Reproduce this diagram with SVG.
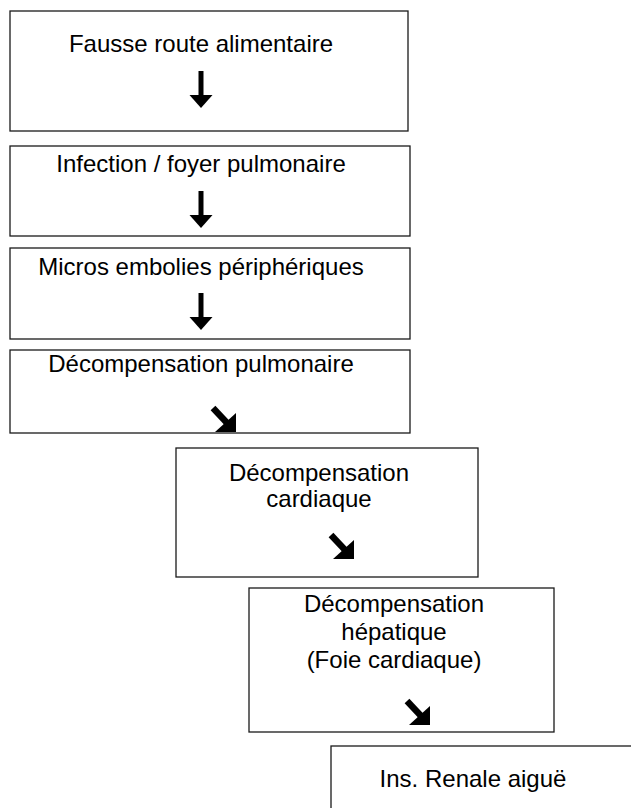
<svg xmlns="http://www.w3.org/2000/svg" width="631" height="808" viewBox="0 0 631 808">
<style>
.box{fill:#fff;stroke:#1a1a1a;stroke-width:1.3}
.t{font-family:"Liberation Sans",Helvetica,Arial,sans-serif;font-size:24px;fill:#000;text-anchor:middle}
.shaft{stroke:#000;stroke-width:5;fill:none}
.head{fill:#000;stroke:none}
</style>
<defs>
<g id="down"><line class="shaft" x1="0" y1="0" x2="0" y2="26"/><polygon class="head" points="-11.5,24 11.5,24 0,37"/></g>
<g id="se"><line class="shaft" x1="-23" y1="-24" x2="-8" y2="-8" style="stroke-width:6.5"/><polygon class="head" points="0,0 0,-19 -21,0"/></g>
</defs>
<rect width="631" height="808" fill="#fff"/>
<g id="n1"><rect class="box" x="10" y="11" width="398" height="120"/><text class="t" x="201" y="52">Fausse route alimentaire</text></g>
<g id="n2"><rect class="box" x="10" y="146" width="400" height="90"/><text class="t" x="201" y="172">Infection / foyer pulmonaire</text></g>
<g id="n3"><rect class="box" x="10" y="248" width="400" height="91"/><text class="t" x="201" y="275">Micros embolies périphériques</text></g>
<g id="n4"><rect class="box" x="10" y="350" width="400" height="83"/><text class="t" x="201" y="372">Décompensation pulmonaire</text></g>
<g id="n5"><rect class="box" x="176" y="448" width="302" height="129"/><text class="t" x="319" y="481">Décompensation</text><text class="t" x="319" y="507">cardiaque</text></g>
<g id="n6"><rect class="box" x="249" y="588" width="305" height="144"/><text class="t" x="394" y="612">Décompensation</text><text class="t" x="394" y="640">hépatique</text><text class="t" x="394" y="668">(Foie cardiaque)</text></g>
<g id="n7"><rect class="box" x="331" y="746" width="310" height="80"/><text class="t" x="473" y="787">Ins. Renale aiguë</text></g>
<g id="connectors">
<use href="#down" x="201" y="71"/>
<use href="#down" x="201" y="191"/>
<use href="#down" x="201" y="293"/>
<use href="#se" x="236" y="432"/>
<use href="#se" x="354" y="559"/>
<use href="#se" x="430" y="725"/>
</g>
</svg>
